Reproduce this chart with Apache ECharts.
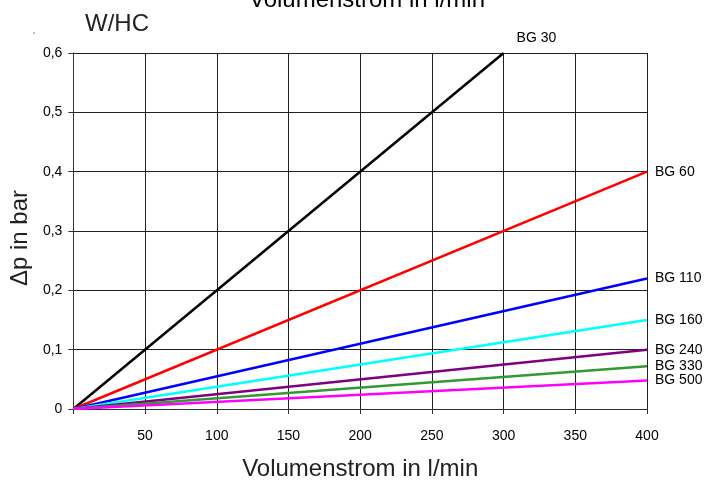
<!DOCTYPE html>
<html>
<head>
<meta charset="utf-8">
<script src="https://cdn.jsdelivr.net/npm/echarts@6/dist/echarts.min.js"></script>
<style>
  html, body { margin: 0; padding: 0; background: #fff; }
  #chart { width: 707px; height: 487px; }
</style>
</head>
<body>
<div id="chart"></div>
<script>
// pressure drop lines per filter size, straight from origin
const seriesNames = ['BG 30', 'BG 60', 'BG 110', 'BG 160', 'BG 240', 'BG 330', 'BG 500'];
const endFlow = [300, 400, 400, 400, 400, 400, 400];
const endDp = [0.6, 0.4, 0.22, 0.15, 0.1, 0.072, 0.048];
const colors = ['#000000', '#ff0000', '#0000ff', '#00ffff', '#800080', '#339933', '#ff00ff'];

const font = 'Liberation Sans, Arial, sans-serif';
const chart = echarts.init(document.getElementById('chart'), null, { renderer: 'canvas' });

const series = seriesNames.map((name, i) => ({
  name,
  type: 'line',
  symbol: 'none',
  lineStyle: { color: colors[i], width: 2.5 },
  endLabel: {
    show: true,
    formatter: '{a}',
    color: '#000',
    fontSize: 14,
    fontFamily: font,
    distance: 8,
    offset: i === 0 ? [5, -15] : [0, 0]
  },
  data: [[0, 0], [endFlow[i], endDp[i]]]
}));

const option = {
  backgroundColor: '#fff',
  animation: false,
  title: [
    {
      text: 'Volumenstrom in l/min',
      left: 362,
      textAlign: 'center',
      top: -17,
      textStyle: { fontSize: 24, fontWeight: 'normal', color: '#000', fontFamily: font }
    },
    {
      text: 'W/HC',
      left: 80,
      top: 7,
      textStyle: { fontSize: 24, fontWeight: 'normal', color: '#222', fontFamily: font }
    }
  ],
  graphic: [
    { type: 'circle', shape: { cx: 34, cy: 33, r: 0.8 }, style: { fill: '#666' } }
  ],
  grid: { left: 70, right: 60, top: 53, bottom: 78, containLabel: false },
  xAxis: {
    type: 'value',
    min: 0,
    max: 400,
    interval: 50,
    name: 'Volumenstrom in l/min',
    nameLocation: 'middle',
    nameGap: 48,
    nameTextStyle: { fontSize: 24, color: '#222', fontFamily: font },
    axisLine: { show: true, lineStyle: { color: '#333', width: 1 } },
    axisTick: { show: true, length: 5, lineStyle: { color: '#333' } },
    axisLabel: {
      color: '#000', fontSize: 14, fontFamily: font, margin: 20,
      formatter: v => (v === 0 ? '' : String(v))
    },
    splitLine: { show: true, lineStyle: { color: '#222', width: 1 } }
  },
  yAxis: {
    type: 'value',
    min: 0,
    max: 0.6,
    interval: 0.1,
    name: 'Δp in bar',
    nameLocation: 'middle',
    nameGap: 40,
    nameTextStyle: { fontSize: 24, color: '#222', fontFamily: font, padding: [0, 14, 0, 0] },
    axisLine: { show: true, lineStyle: { color: '#333', width: 1 } },
    axisTick: { show: true, length: 5, lineStyle: { color: '#333' } },
    axisLabel: {
      color: '#000', fontSize: 14, fontFamily: font, margin: 11,
      formatter: v => (Math.round(v * 10) / 10).toString().replace('.', ',')
    },
    splitLine: { show: true, lineStyle: { color: '#222', width: 1 } }
  },
  series
};

chart.setOption(option);
</script>
</body>
</html>
